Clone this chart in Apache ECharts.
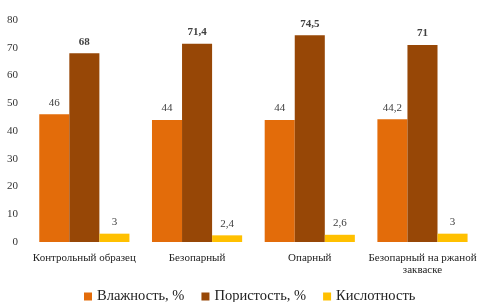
<!DOCTYPE html>
<html>
<head>
<meta charset="utf-8">
<script src="https://cdn.jsdelivr.net/npm/echarts@6/dist/echarts.min.js"></script>
<style>
  html, body { margin: 0; padding: 0; background: #fff; }
  #chart { width: 479px; height: 302px; }
</style>
</head>
<body>
<div id="chart"></div>
<script>
  const categories = ['Контрольный образец', 'Безопарный', 'Опарный', 'Безопарный на ржаной закваске'];
  const moisture = [46, 44, 44, 44.2];
  const porosity = [68, 71.4, 74.5, 71];
  const acidity = [3, 2.4, 2.6, 3];
  const yTicks = { min: 0, max: 80, interval: 10 };

  const font = '"Liberation Serif", "Times New Roman", serif';
  const fmt = p => String(p.value).replace('.', ',');

  // wrap long category names onto two lines, like the original
  const wrapLabel = v => {
    if (v.length <= 22) return v;
    const cut = v.lastIndexOf(' ', 22);
    return v.slice(0, cut) + '\n' + v.slice(cut + 1);
  };

  const chart = echarts.init(document.getElementById('chart'));

  const barLabel = bold => ({
    show: true,
    position: 'top',
    distance: 6,
    formatter: fmt,
    color: '#404040',
    fontFamily: font,
    fontSize: 11,
    fontWeight: bold ? 'bold' : 'normal'
  });

  chart.setOption({
    animation: false,
    textStyle: { fontFamily: font },
    color: ['#E36C0A', '#974706', '#FFC000'],
    grid: { left: 28, top: 20, width: 455, bottom: 60 },
    legend: {
      bottom: -2,
      left: 84,
      padding: 0,
      itemWidth: 8,
      itemHeight: 8,
      itemGap: 17,
      icon: 'rect',
      textStyle: { fontFamily: font, fontSize: 14.5, color: '#222' },
      data: ['Влажность, %', 'Пористость, %', 'Кислотность']
    },
    xAxis: {
      type: 'category',
      data: categories,
      axisLine: { show: false },
      axisTick: { show: false },
      axisLabel: {
        interval: 0,
        margin: 10,
        color: '#222',
        fontFamily: font,
        fontSize: 11,
        lineHeight: 12,
        formatter: wrapLabel
      }
    },
    yAxis: {
      type: 'value',
      min: yTicks.min,
      max: yTicks.max,
      interval: yTicks.interval,
      splitLine: { show: false },
      axisLine: { show: false },
      axisTick: { show: false },
      axisLabel: { color: '#333', fontFamily: font, fontSize: 11, margin: 10 }
    },
    series: [
      { name: 'Влажность, %', type: 'bar', data: moisture, barGap: '0%', barCategoryGap: '20%', label: barLabel(false) },
      { name: 'Пористость, %', type: 'bar', data: porosity, label: barLabel(true) },
      { name: 'Кислотность', type: 'bar', data: acidity, label: barLabel(false) }
    ]
  });
</script>
</body>
</html>
